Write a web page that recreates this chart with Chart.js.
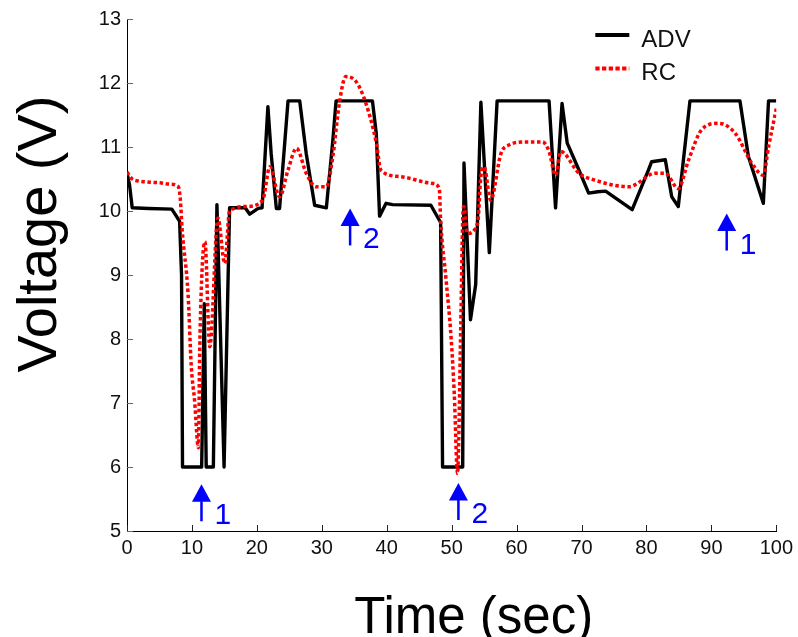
<!DOCTYPE html>
<html>
<head>
<meta charset="utf-8">
<script src="https://cdn.jsdelivr.net/npm/chart.js@4.4.1/dist/chart.umd.min.js"></script>
<style>
  html, body { margin: 0; padding: 0; background: #ffffff; }
  #wrap { width: 798px; height: 637px; }
</style>
</head>
<body>
<div id="wrap"><canvas id="c" width="798" height="637"></canvas></div>
<script>
// ADV controller output voltage (time in s, voltage in V)
const advTime = [0, 0.4, 0.8, 3.3, 6.9, 7.4, 8.1, 8.4, 8.55, 11.5, 11.9, 12.2, 13.3, 13.85, 14.95, 15.8,
  18.2, 18.9, 20.2, 20.8, 21.7, 22.2, 23.0, 23.5, 24.8, 26.6, 27.6, 28.9, 30.7, 31.7, 32.2, 37.8,
  38.4, 38.9, 39.9, 40.9, 46.8, 48.3, 48.6, 51.7, 51.9, 52.9, 53.7, 54.5, 55.8, 57.0, 65.0, 66.0,
  67.0, 67.8, 69.6, 71.1, 72.5, 73.7, 77.8, 80.3, 80.8, 82.9, 83.9, 84.9, 86.7, 94.4, 95.7, 98.0,
  98.8, 100];
const advVolt = [10.6, 10.4, 10.05, 10.04, 10.03, 9.95, 9.84, 9.0, 6.0, 6.0, 8.55, 6.0, 6.0, 10.1, 6.0, 10.05,
  10.05, 9.95, 10.04, 10.05, 11.63, 10.9, 10.04, 10.04, 11.72, 11.72, 10.9, 10.09, 10.05, 11.1, 11.72, 11.72,
  11.2, 9.92, 10.12, 10.1, 10.09, 9.82, 6.0, 6.0, 10.75, 8.3, 8.85, 11.7, 9.35, 11.72, 11.72, 10.05,
  11.68, 11.06, 10.64, 10.28, 10.3, 10.31, 10.02, 10.64, 10.77, 10.8, 10.22, 10.07, 11.72, 11.72, 10.85, 10.12,
  11.72, 11.72];

// RC controller output voltage
const rcTime = [0, 0.8, 1.7, 3.5, 5.1, 6.5, 7.9, 8.2, 8.5, 9.4, 9.9, 10.4, 11.0, 11.2, 12.0, 12.75,
  14.0, 15.05, 15.8, 18.4, 20.9, 22.0, 23.5, 24.8, 26.1, 27.6, 29.1, 30.7, 31.7, 32.7, 33.7, 35.3,
  36.8, 38.4, 39.1, 41.9, 47.1, 48.1, 48.3, 49.1, 49.9, 50.4, 50.9, 51.4, 51.7, 51.9, 52.4, 54.0,
  54.5, 55.0, 56.0, 57.6, 58.8, 61.5, 64.0, 65.0, 66.0, 66.8, 69.6, 72.1, 77.3, 81.4, 82.9, 84.9,
  86.5, 88.5, 91.1, 93.7, 96.2, 98.0, 98.8, 100];
const rcVolt = [10.61, 10.5, 10.47, 10.45, 10.44, 10.42, 10.38, 10.2, 9.7, 8.71, 7.57, 7.05, 6.3, 7.83, 9.52, 7.88,
  9.89, 9.18, 10.0, 10.07, 10.17, 10.69, 10.22, 10.64, 10.98, 10.59, 10.38, 10.38, 10.85, 11.68, 12.1, 12.02,
  11.68, 11.06, 10.64, 10.54, 10.43, 10.35, 9.86, 8.97, 8.04, 7.15, 5.9, 8.19, 9.86, 10.07, 9.65, 9.81,
  10.54, 10.69, 10.17, 10.9, 11.03, 11.08, 11.08, 10.93, 10.56, 10.93, 10.59, 10.48, 10.38, 10.59, 10.59, 10.35,
  10.8, 11.27, 11.37, 11.21, 10.75, 10.56, 11.0, 11.6];

const xTicks = [0, 10, 20, 30, 40, 50, 60, 70, 80, 90, 100];
const yTicks = [5, 6, 7, 8, 9, 10, 11, 12, 13];

// event markers: arrow tip position and its label
const arrowTime = [11.47, 34.36, 51.04, 92.36];
const arrowVolt = [5.73, 10.04, 5.75, 9.96];
const arrowText = ['1', '2', '2', '1'];

const xTitle = 'Time (sec)';
const yTitle = 'Voltage (V)';

const FONT = "'Liberation Sans', Arial, Helvetica, sans-serif";

const toPoints = (xs, ys) => xs.map((t, i) => ({ x: t, y: ys[i] }));

// inward tick marks on the left and bottom axes
const innerTicks = {
  id: 'innerTicks',
  beforeDatasetsDraw(chart) {
    const { ctx, chartArea, scales } = chart;
    ctx.save();
    ctx.lineWidth = 1;
    ctx.strokeStyle = '#222';
    scales.x.ticks.forEach(t => {
      const px = Math.round(scales.x.getPixelForValue(t.value)) + 0.5;
      ctx.beginPath();
      ctx.moveTo(px, chartArea.bottom);
      ctx.lineTo(px, chartArea.bottom - 6);
      ctx.stroke();
    });
    ctx.strokeStyle = '#666';
    scales.y.ticks.forEach(t => {
      const py = Math.round(scales.y.getPixelForValue(t.value)) + 0.5;
      ctx.beginPath();
      ctx.moveTo(chartArea.left, py);
      ctx.lineTo(chartArea.left + 6, py);
      ctx.stroke();
    });
    ctx.restore();
  }
};

// blue event arrows with their numbers
const eventArrows = {
  id: 'eventArrows',
  afterDatasetsDraw(chart) {
    const { ctx, scales } = chart;
    ctx.save();
    ctx.fillStyle = '#0000ff';
    ctx.strokeStyle = '#0000ff';
    arrowTime.forEach((t, i) => {
      const px = scales.x.getPixelForValue(t);
      const py = scales.y.getPixelForValue(arrowVolt[i]);
      ctx.beginPath();
      ctx.moveTo(px, py);
      ctx.lineTo(px - 9.5, py + 17.5);
      ctx.lineTo(px + 9.5, py + 17.5);
      ctx.closePath();
      ctx.fill();
      ctx.lineWidth = 2.5;
      ctx.beginPath();
      ctx.moveTo(px, py + 17);
      ctx.lineTo(px, py + 37);
      ctx.stroke();
      ctx.font = '30px ' + FONT;
      ctx.textAlign = 'left';
      ctx.textBaseline = 'alphabetic';
      ctx.fillText(arrowText[i], px + 13, py + 40);
    });
    ctx.restore();
  }
};

// line-sample legend in the upper right of the plot
const lineLegend = {
  id: 'lineLegend',
  afterDatasetsDraw(chart) {
    const { ctx, chartArea } = chart;
    ctx.save();
    chart.data.datasets.forEach((ds, i) => {
      const y = chartArea.top + 16 + i * 33.5;
      const x0 = chartArea.right - 181;
      ctx.strokeStyle = ds.borderColor;
      ctx.lineWidth = 4;
      ctx.setLineDash(ds.borderDash ? [4.3, 2.4] : []);
      ctx.beginPath();
      ctx.moveTo(x0, y);
      ctx.lineTo(x0 + 34, y);
      ctx.stroke();
      ctx.setLineDash([]);
      ctx.fillStyle = '#111';
      ctx.font = '24px ' + FONT;
      ctx.textAlign = 'left';
      ctx.textBaseline = 'alphabetic';
      ctx.fillText(ds.label, x0 + 46, y + 11.5);
    });
    ctx.restore();
  }
};

// axis titles
const axisTitles = {
  id: 'axisTitles',
  afterDraw(chart) {
    const { ctx, chartArea } = chart;
    ctx.save();
    ctx.fillStyle = '#000';
    ctx.textAlign = 'center';
    ctx.textBaseline = 'alphabetic';
    ctx.font = '51px ' + FONT;
    ctx.fillText(xTitle, (chartArea.left + chartArea.right) / 2 + 22, chartArea.bottom + 102);
    ctx.translate(chartArea.left - 71, (chartArea.top + chartArea.bottom) / 2 - 41);
    ctx.rotate(-Math.PI / 2);
    ctx.font = '56px ' + FONT;
    ctx.fillText(yTitle, 0, 0);
    ctx.restore();
  }
};

new Chart(document.getElementById('c'), {
  type: 'line',
  data: {
    datasets: [
      {
        label: 'ADV',
        data: toPoints(advTime, advVolt),
        borderColor: '#000000',
        borderWidth: 3.4,
        borderJoinStyle: 'round',
        pointRadius: 0,
        tension: 0,
        order: 1
      },
      {
        label: 'RC',
        data: toPoints(rcTime, rcVolt),
        borderColor: '#ff0000',
        borderWidth: 3.5,
        borderDash: [3.5, 2.6],
        pointRadius: 0,
        cubicInterpolationMode: 'monotone',
        order: 0
      }
    ]
  },
  options: {
    responsive: false,
    animation: false,
    devicePixelRatio: 1,
    layout: { padding: { top: 19, right: 20, left: 0, bottom: 0 } },
    plugins: { legend: { display: false }, tooltip: { enabled: false } },
    scales: {
      x: {
        type: 'linear',
        min: 0,
        max: 100,
        afterBuildTicks: s => { s.ticks = xTicks.map(v => ({ value: v })); },
        afterFit: s => { s.height = 106; },
        grid: { drawOnChartArea: false, drawTicks: false },
        border: { display: true, color: '#000', width: 1 },
        ticks: { padding: 5, color: '#111', font: { family: FONT, size: 20 } }
      },
      y: {
        type: 'linear',
        min: 5,
        max: 13,
        afterBuildTicks: s => { s.ticks = yTicks.map(v => ({ value: v })); },
        afterFit: s => { s.width = 127; },
        grid: { drawOnChartArea: false, drawTicks: false },
        border: { display: true, color: '#000', width: 1 },
        ticks: { padding: 6, color: '#111', font: { family: FONT, size: 20 } }
      }
    }
  },
  plugins: [innerTicks, eventArrows, lineLegend, axisTitles]
});
</script>
</body>
</html>
